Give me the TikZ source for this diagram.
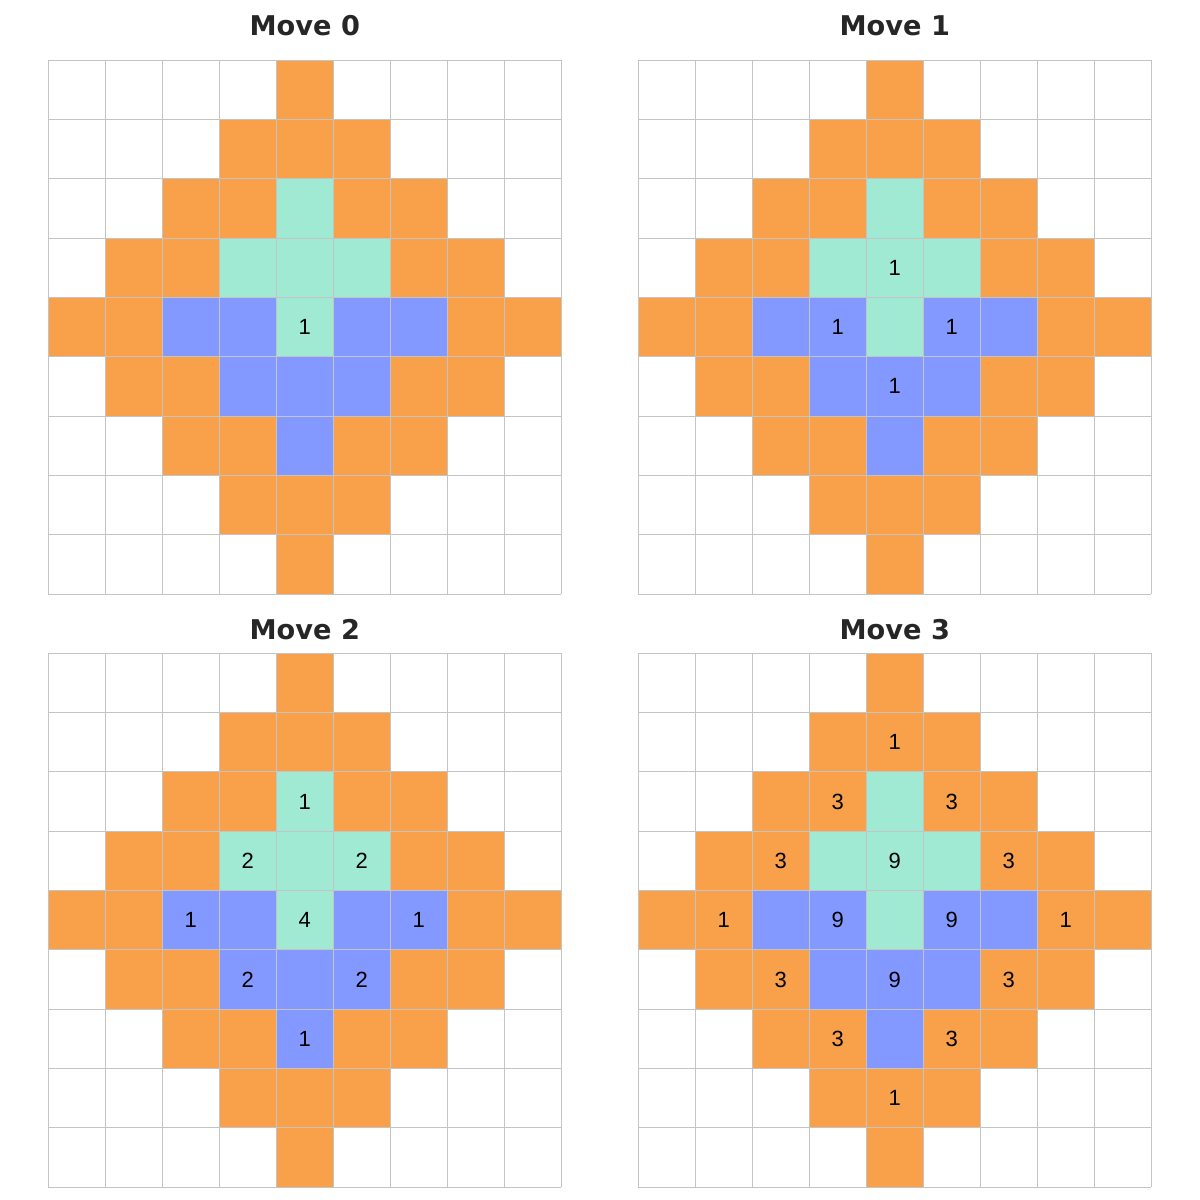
\documentclass[tikz,border=0pt]{standalone}
\usepackage{fontspec}
\setmainfont{Liberation Sans}
\newfontfamily\titlefont{DejaVu Sans}
\usetikzlibrary{positioning}

\definecolor{orangecell}{HTML}{F9A04A}
\definecolor{mintcell}{HTML}{A0EAD4}
\definecolor{bluecell}{HTML}{8399FF}
\definecolor{gridgray}{HTML}{C4C4C4}

% one 9x9 board, cell (r,c) spans (c,r) to (c+1,r+1)
\newcommand{\drawboard}{%
  \foreach \r in {0,...,8}
    \foreach \c in {0,...,8} {
      \pgfmathtruncatemacro{\d}{abs(\r-4)+abs(\c-4)}
      \ifnum\d<5
        \fill[orangecell] (\c,\r) rectangle ++(1,1);
      \fi
    }
  \foreach \r/\c in {2/4,3/3,3/4,3/5,4/4}
    \fill[mintcell] (\c,\r) rectangle ++(1,1);
  \foreach \r/\c in {4/2,4/3,4/5,4/6,5/3,5/4,5/5,6/4}
    \fill[bluecell] (\c,\r) rectangle ++(1,1);
  \foreach \i in {0,...,9} {
    \draw[gridline] (\i,0) -- (\i,9);
    \draw[gridline] (0,\i) -- (9,\i);
  }
}

\begin{document}
\begin{tikzpicture}[
  x=0.5pt, y=-0.5pt,
  gridline/.style={draw=gridgray, line width=0.5pt},
  ttl/.style={font=\titlefont\bfseries\fontsize{13.6}{16}\selectfont, text=black!85, inner sep=0pt},
  num/.style={font=\fontsize{11}{13}\selectfont, inner sep=0pt},
  board/.style={x=28.5pt, y=-29.667pt}
]
\useasboundingbox (0,0) rectangle (1200,1200);

% titles
\node[ttl] (t0) at (304.8,26) {Move 0};
\node[ttl] (t1) at (894.8,26) {Move 1};
\node[ttl] (t2) at (304.8,630) {Move 2};
\node[ttl] (t3) at (894.8,630) {Move 3};

% move 0
\begin{scope}[shift={(48.3,60)}, board]
  \drawboard
  \node[num] (m0a) at (4.5,4.5) {1};
\end{scope}

% move 1
\begin{scope}[shift={(638.3,60)}, board]
  \drawboard
  \foreach \r/\c/\n in {3/4/1,4/3/1,4/5/1,5/4/1}
    \node[num] at (\c+0.5,\r+0.5) {\n};
\end{scope}

% move 2
\begin{scope}[shift={(48.3,653.3)}, board]
  \drawboard
  \foreach \r/\c/\n in {2/4/1,3/3/2,3/5/2,4/2/1,4/4/4,4/6/1,5/3/2,5/5/2,6/4/1}
    \node[num] at (\c+0.5,\r+0.5) {\n};
\end{scope}

% move 3
\begin{scope}[shift={(638.3,653.3)}, board]
  \drawboard
  \foreach \r/\c/\n in {1/4/1,2/3/3,2/5/3,3/2/3,3/4/9,3/6/3,4/1/1,4/3/9,4/5/9,4/7/1,
                        5/2/3,5/4/9,5/6/3,6/3/3,6/5/3,7/4/1}
    \node[num] at (\c+0.5,\r+0.5) {\n};
\end{scope}
\end{tikzpicture}
\end{document}
